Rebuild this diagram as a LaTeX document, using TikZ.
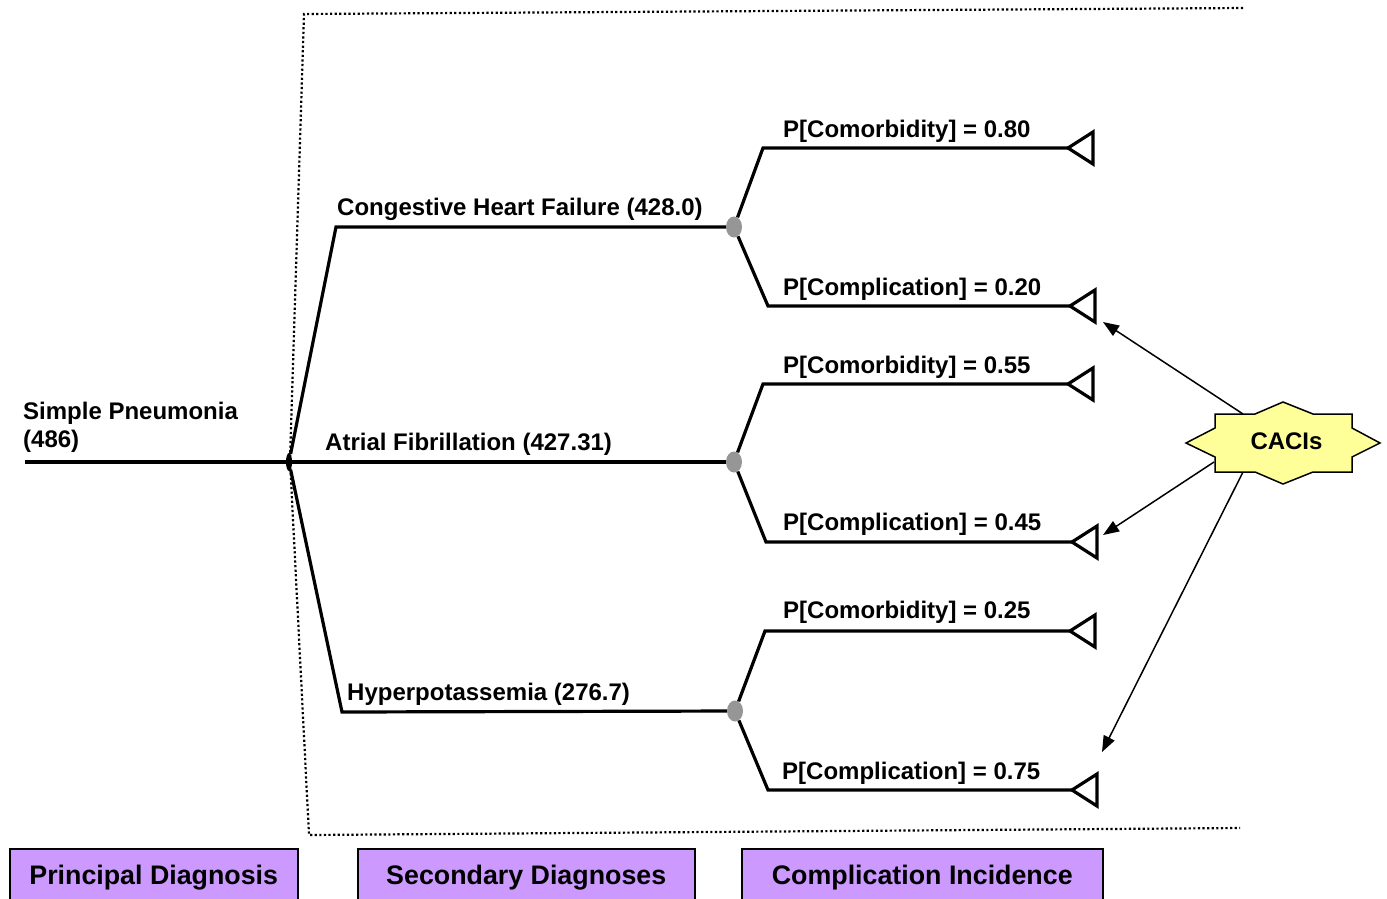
\documentclass[tikz,border=0pt]{standalone}
\usepackage{fontspec}
\setmainfont{Liberation Sans}
\usetikzlibrary{arrows.meta,shapes.geometric}
\definecolor{cacifill}{RGB}{255,255,153}
\definecolor{boxfill}{RGB}{204,153,255}
\definecolor{chancegray}{RGB}{150,150,150}
\begin{document}
\begin{tikzpicture}[x=1pt,y=-1pt,
  lbl/.style={font=\fontsize{24}{28}\selectfont\bfseries, inner sep=0pt, anchor=base west},
  branch/.style={line width=3.2pt, line join=miter},
  tri/.style={line width=3.2pt, line join=miter},
  chance/.style={ellipse, fill=chancegray, minimum width=16pt, minimum height=21pt, inner sep=0pt},
  decision/.style={ellipse, fill=black, minimum width=6pt, minimum height=18pt, inner sep=0pt},
  frame/.style={line width=2.2pt, dash pattern=on 2.2pt off 2.4pt},
  arr/.style={line width=1.5pt, -{Triangle[length=16pt,width=12pt]}},
  cat/.style={draw, line width=1.5pt, fill=boxfill, font=\fontsize{26.8}{30}\selectfont\bfseries, anchor=north west, inner sep=0pt, minimum height=58pt},
  star/.style={line width=1.5pt, fill=cacifill, line join=miter}]
\useasboundingbox (0,0) rectangle (1387,898);
\clip (0,0) rectangle (1387,898);

% dotted frame
\draw[frame] (1243,8) -- (304,14) -- (290,460) -- (309,835) -- (1240,828);

% nodes of the tree
\coordinate (root) at (25,462);
\node[decision] (d) at (289,462) {};
\coordinate (b1) at (336,227);
\coordinate (b3) at (342,712);
\node[chance] (c1) at (734,227) {};
\node[chance] (c2) at (734,462) {};
\node[chance] (c3) at (735,711) {};

\coordinate (u1) at (763,148); \coordinate (t1) at (1068,148);
\coordinate (v1) at (768,306); \coordinate (w1) at (1070,306);
\coordinate (u2) at (763,384); \coordinate (t2) at (1068,384);
\coordinate (v2) at (766,542); \coordinate (w2) at (1072,542);
\coordinate (u3) at (765,631); \coordinate (t3) at (1070,631);
\coordinate (v3) at (768,790); \coordinate (w3) at (1072,790);

% branches
\draw[branch] (root) -- (d.center);
\draw[branch] (d) -- (b1) -- (c1);
\draw[branch] (d) -- (c2);
\draw[branch] (d) -- (b3) -- (c3);
\draw[branch] (c1) -- (u1) -- (t1);
\draw[branch] (c1) -- (v1) -- (w1);
\draw[branch] (c2) -- (u2) -- (t2);
\draw[branch] (c2) -- (v2) -- (w2);
\draw[branch] (c3) -- (u3) -- (t3);
\draw[branch] (c3) -- (v3) -- (w3);

% terminal triangles
\foreach \t in {t1,w1,t2,w2,t3,w3}{
  \draw[tri] (\t) -- ++(25,-16) -- ++(0,32) -- cycle;
}

% labels
\node[lbl] (lsp) at (23,419) {Simple Pneumonia};
\node[lbl] (lsp2) at (23,447) {(486)};
\node[lbl] (lchf) at (337,215) {Congestive Heart Failure (428.0)};
\node[lbl] (laf) at (325,450) {Atrial Fibrillation (427.31)};
\node[lbl] (lhk) at (347,700) {Hyperpotassemia (276.7)};
\node[lbl] (p1) at (783,137) {P[Comorbidity] = 0.80};
\node[lbl] (q1) at (783,295) {P[Complication] = 0.20};
\node[lbl] (p2) at (783,373) {P[Comorbidity] = 0.55};
\node[lbl] (q2) at (783,530) {P[Complication] = 0.45};
\node[lbl] (p3) at (783,618) {P[Comorbidity] = 0.25};
\node[lbl] (q3) at (782,779) {P[Complication] = 0.75};

% arrows from CACIs
\coordinate (s1) at (1243,414);
\coordinate (s2) at (1214,462);
\coordinate (s3) at (1243,472);
\coordinate (a1) at (1103,322);
\coordinate (a2) at (1103,535);
\coordinate (a3) at (1102,752);
\draw[arr] (s1) -- (a1);
\draw[arr] (s2) -- (a2);
\draw[arr] (s3) -- (a3);

% CACIs star
\draw[star] (1215,414) -- (1255,414) -- (1283,402) -- (1313,414) -- (1352,414) -- (1352,428) -- (1380,443) -- (1352,457) -- (1352,472) -- (1313,472) -- (1283,484) -- (1255,472) -- (1215,472) -- (1215,457) -- (1186,443) -- (1215,428) -- cycle;
\node[font=\fontsize{24}{28}\selectfont\bfseries, inner sep=0pt] (caci) at (1286.5,441) {CACIs};

% category boxes
\node[cat, minimum width=288pt] (pd) at (9,848) {Principal Diagnosis};
\node[cat, minimum width=337pt] (sd) at (357,848) {Secondary Diagnoses};
\node[cat, minimum width=361pt] (ci) at (741,848) {Complication Incidence};
\end{tikzpicture}
\end{document}
